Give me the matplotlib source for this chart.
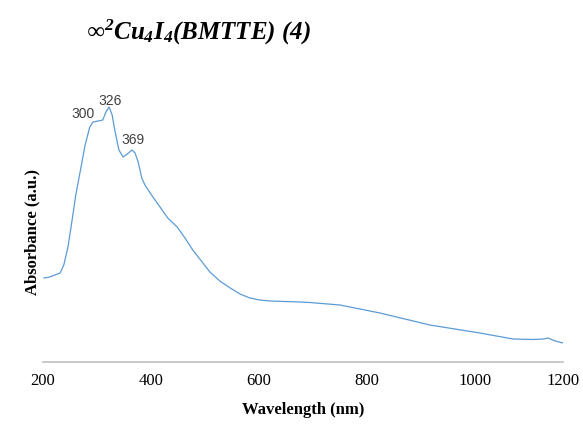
import matplotlib
matplotlib.use("Agg")
import matplotlib.pyplot as plt

# UV-vis spectrum
wavelength = [202, 213, 233, 240, 248, 256, 263, 271, 281, 290, 296, 306, 315, 321,
              327, 333, 338, 346, 354, 362, 371, 377, 383, 390, 396, 410, 425, 440,
              458, 473, 488, 506, 521, 540, 560, 579, 598, 617, 637, 694, 713, 771,
              848, 944, 1040, 1104, 1142, 1163, 1171, 1185, 1200]
absorbance = [0.84, 0.85, 0.89, 0.97, 1.15, 1.42, 1.67, 1.89, 2.17, 2.35, 2.40, 2.41,
              2.42, 2.50, 2.55, 2.47, 2.32, 2.12, 2.05, 2.08, 2.12, 2.09, 2.00, 1.84,
              1.77, 1.66, 1.55, 1.44, 1.35, 1.24, 1.12, 1.00, 0.90, 0.81, 0.74, 0.68,
              0.64, 0.62, 0.61, 0.60, 0.595, 0.57, 0.49, 0.37, 0.29, 0.23, 0.225,
              0.23, 0.24, 0.21, 0.19]

peak_labels = ["300", "326", "369"]
peak_pos = [(277, 2.41), (329, 2.54), (373, 2.15)]

tick_pos = [200, 407, 615, 823, 1031, 1200]
tick_labels = ["200", "400", "600", "800", "1000", "1200"]

plt.rcParams['mathtext.fontset'] = 'custom'
plt.rcParams['mathtext.rm'] = 'Liberation Serif:italic:bold'
plt.rcParams['mathtext.it'] = 'Liberation Serif:italic:bold'
plt.rcParams['mathtext.bf'] = 'Liberation Serif:italic:bold'

fig = plt.figure(figsize=(5.83, 4.25), dpi=100)
ax = fig.add_axes([43 / 583, 63 / 425, 520 / 583, 267 / 425])

ax.plot(wavelength, absorbance, color='#5B9BD5', lw=0.9)
ax.set_xlim(200, 1200)
ax.set_ylim(0, 2.67)

for s in ['top', 'right', 'left']:
    ax.spines[s].set_visible(False)
ax.spines['bottom'].set_color('#BFBFBF')
ax.spines['bottom'].set_linewidth(1.2)
ax.set_yticks([])
ax.set_xticks(tick_pos)
ax.set_xticklabels(tick_labels, fontfamily='Liberation Serif', fontsize=12)
ax.tick_params(axis='x', length=0, pad=8)

for lab, (x, y) in zip(peak_labels, peak_pos):
    ax.text(x, y, lab, ha='center', va='bottom', fontsize=10,
            fontfamily='Liberation Sans', color='#404040')

fig.text(303 / 583, 1 - 410 / 425, 'Wavelength (nm)', ha='center', va='center',
         fontsize=12, fontweight='bold', fontfamily='Liberation Serif')
fig.text(32 / 583, 1 - 232 / 425, 'Absorbance (a.u.)', ha='center', va='center',
         rotation=90, fontsize=12, fontweight='bold', fontfamily='Liberation Serif')

fig.text(86 / 583, 1 - 32 / 425, r'$\infty^2 Cu_4I_4(BMTTE)\ (4)$', ha='left',
         va='center', fontsize=18)

fig.savefig('out.png', dpi=100)
